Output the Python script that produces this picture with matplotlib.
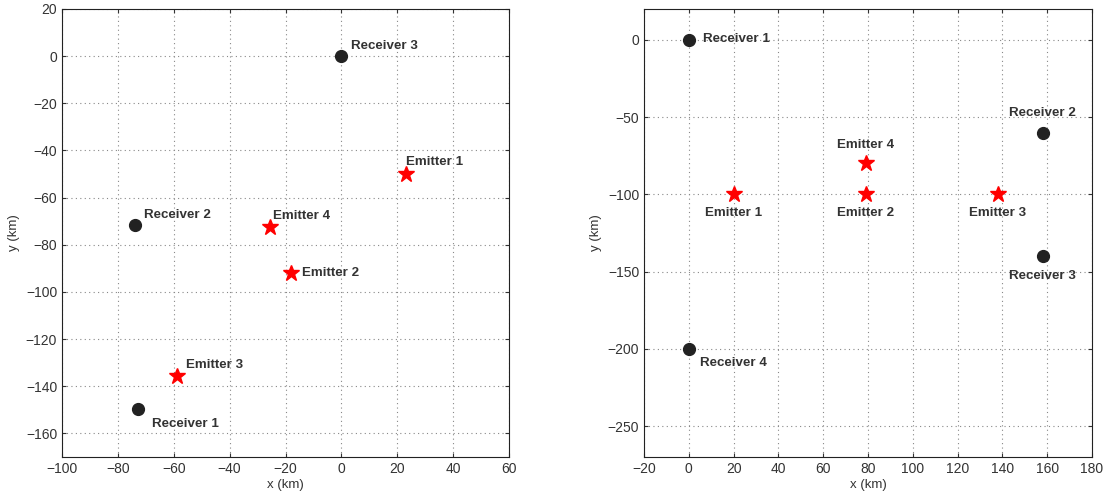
import matplotlib.pyplot as plt

plt.rcParams['font.family'] = ['Liberation Sans', 'DejaVu Sans']
plt.rcParams['xtick.direction'] = 'in'
plt.rcParams['ytick.direction'] = 'in'

# Left scenario
left_rx_names = ['Receiver 1', 'Receiver 2', 'Receiver 3']
left_rx_x = [-72.8, -74, 0]
left_rx_y = [-149.8, -71.5, 0]
left_em_names = ['Emitter 1', 'Emitter 2', 'Emitter 3', 'Emitter 4']
left_em_x = [23, -18, -59, -25.5]
left_em_y = [-50, -92, -135.5, -72.5]

# Right scenario
right_rx_names = ['Receiver 1', 'Receiver 2', 'Receiver 3', 'Receiver 4']
right_rx_x = [0, 158, 158, 0]
right_rx_y = [0, -60, -140, -200]
right_em_names = ['Emitter 1', 'Emitter 2', 'Emitter 3', 'Emitter 4']
right_em_x = [20, 79, 138, 79]
right_em_y = [-100, -100, -100, -80]

# label offsets (points) and alignment
left_rx_off = [((10, -6), 'left', 'top'), ((7, 3), 'left', 'bottom'), ((7, 3), 'left', 'bottom')]
left_em_off = [((0, 4), 'left', 'bottom'), ((8, 0), 'left', 'center'), ((7, 3), 'left', 'bottom'), ((2, 4), 'left', 'bottom')]
right_rx_off = [((10, 1), 'left', 'center'), ((0, 10), 'center', 'bottom'), ((0, -10), 'center', 'top'), ((8, -6), 'left', 'top')]
right_em_off = [((0, -9), 'center', 'top'), ((0, -9), 'center', 'top'), ((0, -9), 'center', 'top'), ((0, 9), 'center', 'bottom')]

fig = plt.figure(figsize=(11.06, 4.94), dpi=100)
ax1 = fig.add_axes([62/1106, 37/494, 447/1106, 448/494])
ax2 = fig.add_axes([644/1106, 37/494, 448/1106, 448/494])


def draw(ax, rxn, rxx, rxy, rxo, emn, emx, emy, emo):
    ax.plot(rxx, rxy, 'o', color='#222222', markersize=8.5, linestyle='none', zorder=3)
    ax.plot(emx, emy, '*', color='red', markersize=12, linestyle='none', zorder=3)
    for n, x, y, (off, ha, va) in zip(rxn, rxx, rxy, rxo):
        ax.annotate(n, (x, y), xytext=off, textcoords='offset points', ha=ha, va=va,
                    fontsize=9.6, fontweight='bold', color='#333333')
    for n, x, y, (off, ha, va) in zip(emn, emx, emy, emo):
        ax.annotate(n, (x, y), xytext=off, textcoords='offset points', ha=ha, va=va,
                    fontsize=9.6, fontweight='bold', color='#333333')
    ax.grid(True, linestyle=(0, (1, 3)), color='#888888', linewidth=0.8)
    ax.tick_params(top=True, right=True, labelsize=10, colors='#333333', length=3)
    ax.set_xlabel('x (km)', fontsize=9.5, color='#333333', labelpad=2)
    ax.set_ylabel('y (km)', fontsize=9.5, color='#333333')
    for s in ax.spines.values():
        s.set_color('#222222')


draw(ax1, left_rx_names, left_rx_x, left_rx_y, left_rx_off,
     left_em_names, left_em_x, left_em_y, left_em_off)
ax1.set_xlim(-100, 60)
ax1.set_ylim(-170, 20)
ax1.set_xticks(range(-100, 61, 20))
ax1.set_yticks(range(-160, 21, 20))

draw(ax2, right_rx_names, right_rx_x, right_rx_y, right_rx_off,
     right_em_names, right_em_x, right_em_y, right_em_off)
ax2.set_xlim(-20, 180)
ax2.set_ylim(-270, 20)
ax2.set_xticks(range(-20, 181, 20))
ax2.set_yticks(range(-250, 1, 50))

fig.savefig('out.png', dpi=100)
